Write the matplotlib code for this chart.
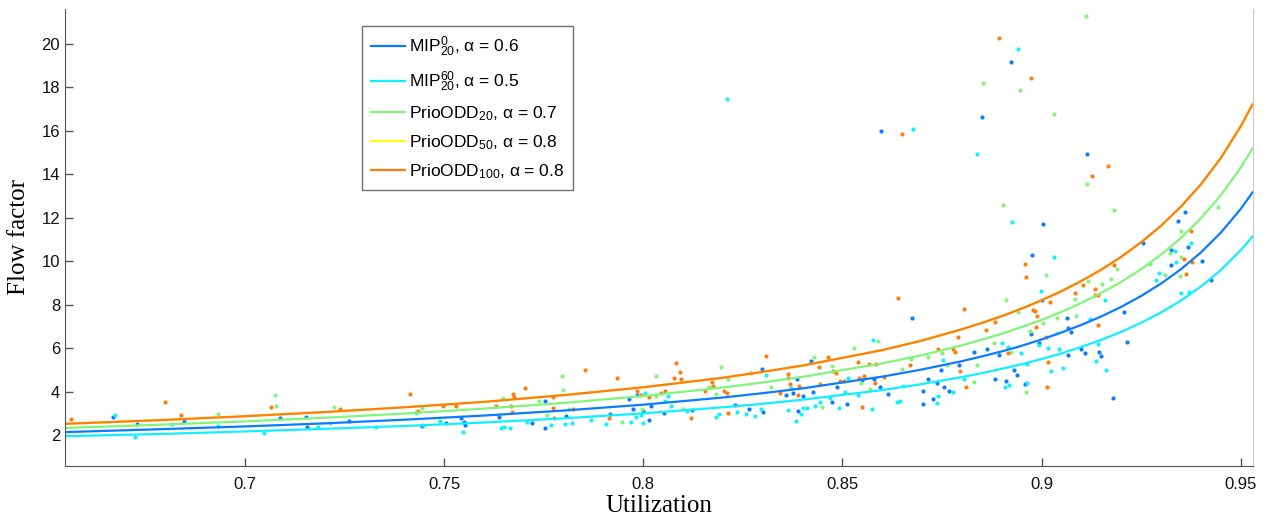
import matplotlib
matplotlib.use("Agg")
import matplotlib.pyplot as plt

# fitted curves, values
u_fit = [0.655, 0.68, 0.70, 0.72, 0.74, 0.76, 0.78, 0.80, 0.82, 0.83, 0.84, 0.86, 0.87,
         0.88, 0.885, 0.89, 0.895, 0.90, 0.905, 0.91, 0.915, 0.92, 0.925, 0.93, 0.935,
         0.94, 0.945, 0.95, 0.953]
fit_mip0 = [2.14, 2.28, 2.40, 2.54, 2.71, 2.90, 3.13, 3.40, 3.73, 3.93, 4.15, 4.69, 5.02,
            5.40, 5.62, 5.85, 6.11, 6.40, 6.72, 7.07, 7.46, 7.90, 8.40, 8.97, 9.63,
            10.40, 11.31, 12.40, 13.17]
fit_mip60 = [1.95, 2.06, 2.17, 2.29, 2.42, 2.58, 2.77, 3.00, 3.28, 3.44, 3.63, 4.07, 4.35,
             4.67, 4.85, 5.05, 5.26, 5.50, 5.76, 6.06, 6.38, 6.75, 7.17, 7.64, 8.19,
             8.83, 9.59, 10.50, 11.14]
fit_odd20 = [2.33, 2.49, 2.63, 2.80, 2.99, 3.22, 3.48, 3.80, 4.19, 4.42, 4.68, 5.30, 5.68,
             6.13, 6.39, 6.66, 6.97, 7.30, 7.67, 8.08, 8.54, 9.05, 9.63, 10.30, 11.07,
             11.97, 13.03, 14.30, 15.19]
fit_odd50 = [2.52, 2.70, 2.87, 3.06, 3.28, 3.53, 3.84, 4.20, 4.64, 4.91, 5.20, 5.91, 6.35,
             6.87, 7.16, 7.47, 7.82, 8.20, 8.62, 9.09, 9.61, 10.20, 10.87, 11.63, 12.51,
             13.53, 14.74, 16.20, 17.22]
fit_odd100 = [2.52, 2.70, 2.87, 3.06, 3.28, 3.53, 3.84, 4.20, 4.64, 4.91, 5.20, 5.91, 6.35,
              6.87, 7.16, 7.47, 7.82, 8.20, 8.62, 9.09, 9.61, 10.20, 10.87, 11.63, 12.51,
              13.53, 14.74, 16.20, 17.22]

# measured points
u_mip0 = [0.6669, 0.6728, 0.6846, 0.7088, 0.7153, 0.7156, 0.7260, 0.7445, 0.7505, 0.7542,
          0.7551, 0.7552, 0.7638, 0.7721, 0.7752, 0.7753, 0.7805, 0.7916, 0.7965, 0.7975,
          0.7985, 0.7999, 0.8014, 0.8019, 0.8053, 0.8122, 0.8230, 0.8265, 0.8297, 0.8301,
          0.8358, 0.8377, 0.8387, 0.8389, 0.8402, 0.8420, 0.8427, 0.8473, 0.8487, 0.8512,
          0.8549, 0.8578, 0.8594, 0.8598, 0.8614, 0.8675, 0.8703, 0.8703, 0.8716, 0.8728,
          0.8738, 0.8747, 0.8754, 0.8768, 0.8793, 0.8831, 0.8850, 0.8862, 0.8884, 0.8894,
          0.8911, 0.8923, 0.8931, 0.8939, 0.8958, 0.8974, 0.8977, 0.8993, 0.9002, 0.9004,
          0.9063, 0.9066, 0.9067, 0.9073, 0.9099, 0.9108, 0.9113, 0.9143, 0.9150, 0.9180,
          0.9207, 0.9215, 0.9255, 0.9325, 0.9326, 0.9343, 0.9359, 0.9368, 0.9402, 0.9426]
ff_mip0 = [2.85, 2.50, 2.63, 2.77, 2.85, 2.36, 2.66, 2.43, 2.54, 2.79,
           2.62, 2.48, 2.82, 2.57, 2.32, 3.57, 2.88, 2.97, 3.65, 3.19,
           3.86, 3.11, 2.69, 3.35, 3.02, 3.15, 3.40, 3.19, 5.06, 3.08,
           3.84, 3.92, 4.57, 3.12, 3.80, 5.40, 3.97, 3.51, 4.21, 3.42,
           4.53, 4.57, 4.23, 15.99, 3.89, 7.39, 3.42, 4.04, 4.57, 3.65,
           4.38, 5.00, 4.21, 4.04, 5.23, 5.84, 16.63, 5.95, 4.60, 5.69,
           4.49, 19.16, 5.01, 4.78, 4.34, 6.65, 10.28, 6.25, 8.22, 11.70,
           7.40, 6.92, 5.69, 6.73, 5.95, 5.79, 14.94, 5.81, 5.64, 3.71,
           7.67, 6.27, 10.83, 10.51, 9.83, 11.84, 12.26, 10.64, 10.01, 9.14]

u_mip60 = [0.6674, 0.6724, 0.6817, 0.6933, 0.7048, 0.7184, 0.7328, 0.7429, 0.7447, 0.7490,
           0.7547, 0.7643, 0.7650, 0.7666, 0.7707, 0.7768, 0.7803, 0.7822, 0.7869, 0.7906,
           0.7970, 0.7982, 0.7994, 0.8000, 0.8003, 0.8055, 0.8063, 0.8070, 0.8109, 0.8182,
           0.8190, 0.8209, 0.8235, 0.8257, 0.8281, 0.8296, 0.8307, 0.8364, 0.8371, 0.8383,
           0.8395, 0.8402, 0.8410, 0.8431, 0.8444, 0.8468, 0.8492, 0.8507, 0.8513, 0.8540,
           0.8573, 0.8577, 0.8638, 0.8645, 0.8651, 0.8677, 0.8737, 0.8739, 0.8753, 0.8778,
           0.8805, 0.8837, 0.8900, 0.8908, 0.8916, 0.8919, 0.8927, 0.8941, 0.8948, 0.8964,
           0.8964, 0.8993, 0.8998, 0.9015, 0.9024, 0.9030, 0.9044, 0.9053, 0.9122, 0.9136,
           0.9142, 0.9160, 0.9162, 0.9288, 0.9296, 0.9334, 0.9338, 0.9349, 0.9371, 0.9374]
ff_mip60 = [2.92, 1.93, 2.52, 2.42, 2.11, 2.36, 2.36, 3.03, 2.45, 2.66,
            2.14, 2.34, 2.38, 2.34, 2.62, 2.45, 2.51, 2.56, 2.69, 2.50,
            2.60, 2.82, 2.94, 2.57, 3.92, 3.55, 3.81, 3.35, 3.12, 2.85,
            2.96, 17.44, 3.08, 2.97, 2.88, 3.19, 4.78, 3.15, 4.15, 2.65,
            2.97, 3.23, 3.26, 3.35, 3.51, 3.69, 3.26, 4.00, 4.61, 3.84,
            3.19, 6.38, 3.51, 3.55, 4.27, 16.06, 3.46, 3.80, 5.46, 4.00,
            4.60, 14.94, 6.25, 4.21, 6.04, 4.32, 11.78, 19.76, 5.76, 5.26,
            4.41, 6.15, 8.63, 6.02, 4.96, 10.17, 5.98, 5.10, 7.36, 5.40,
            6.18, 8.22, 5.01, 9.14, 9.45, 10.49, 9.94, 8.53, 8.59, 10.84]

u_odd20 = [0.6931, 0.7074, 0.7078, 0.7213, 0.7223, 0.7429, 0.7444, 0.7648, 0.7737, 0.7757,
           0.7796, 0.7798, 0.7813, 0.7946, 0.7996, 0.8032, 0.8032, 0.8099, 0.8164, 0.8183,
           0.8194, 0.8212, 0.8321, 0.8429, 0.8449, 0.8474, 0.8530, 0.8547, 0.8568, 0.8590,
           0.8650, 0.8671, 0.8716, 0.8749, 0.8762, 0.8831, 0.8839, 0.8853, 0.8880, 0.8904,
           0.8911, 0.8924, 0.8940, 0.8947, 0.8962, 0.8971, 0.9003, 0.9011, 0.9030, 0.9038,
           0.9038, 0.9084, 0.9087, 0.9112, 0.9113, 0.9116, 0.9151, 0.9175, 0.9182, 0.9190,
           0.9272, 0.9310, 0.9323, 0.9348, 0.9350, 0.9350, 0.9442]
ff_odd20 = [2.97, 3.86, 3.34, 2.57, 3.28, 3.05, 3.26, 3.71, 3.57, 2.92,
            4.72, 4.06, 3.20, 2.59, 3.19, 4.72, 3.80, 3.19, 4.20, 3.89,
            5.12, 4.57, 4.20, 5.61, 3.31, 5.18, 6.02, 4.38, 4.12, 6.33,
            5.04, 5.49, 5.58, 5.79, 5.23, 4.43, 5.24, 18.19, 6.25, 12.59,
            8.22, 5.84, 7.65, 17.89, 3.97, 6.79, 7.15, 9.37, 16.77, 7.40,
            6.69, 8.26, 7.48, 21.29, 13.56, 9.11, 8.96, 9.18, 12.36, 9.63,
            9.88, 9.36, 10.37, 9.32, 11.40, 10.17, 12.49]

u_odd100 = [0.6563, 0.6799, 0.6839, 0.7064, 0.7238, 0.7414, 0.7433, 0.7496, 0.7530, 0.7629,
            0.7668, 0.7670, 0.7674, 0.7676, 0.7704, 0.7772, 0.7772, 0.7775, 0.7823, 0.7854,
            0.7914, 0.7934, 0.7985, 0.7994, 0.8014, 0.8045, 0.8055, 0.8076, 0.8082, 0.8092,
            0.8095, 0.8119, 0.8156, 0.8173, 0.8174, 0.8202, 0.8209, 0.8213, 0.8271, 0.8307,
            0.8344, 0.8363, 0.8364, 0.8368, 0.8389, 0.8391, 0.8440, 0.8444, 0.8463, 0.8476,
            0.8484, 0.8495, 0.8504, 0.8539, 0.8542, 0.8550, 0.8553, 0.8566, 0.8583, 0.8585,
            0.8604, 0.8640, 0.8650, 0.8669, 0.8740, 0.8778, 0.8783, 0.8790, 0.8796, 0.8805,
            0.8810, 0.8860, 0.8884, 0.8894, 0.8916, 0.8959, 0.8962, 0.8974, 0.8979, 0.8984,
            0.8985, 0.8988, 0.9011, 0.9014, 0.9017, 0.9022, 0.9084, 0.9103, 0.9126, 0.9135,
            0.9135, 0.9142, 0.9142, 0.9166, 0.9182, 0.9357, 0.9363, 0.9374, 0.9377]
ff_odd100 = [2.74, 3.52, 2.94, 3.31, 3.21, 3.89, 3.11, 3.32, 3.34, 3.34,
             3.32, 3.06, 3.88, 3.74, 4.15, 3.77, 3.26, 2.77, 3.19, 4.98,
             2.77, 4.61, 4.04, 3.83, 3.74, 3.95, 4.04, 4.61, 5.30, 4.89,
             4.57, 2.80, 4.04, 4.46, 4.27, 4.04, 3.92, 3.00, 4.84, 5.64,
             3.95, 4.81, 4.64, 4.35, 3.84, 4.26, 5.13, 4.35, 5.61, 4.95,
             4.87, 4.50, 4.49, 5.38, 4.61, 3.31, 4.72, 5.27, 4.38, 5.27,
             4.66, 8.30, 15.87, 5.23, 5.95, 5.95, 5.84, 6.50, 4.96, 7.82,
             4.21, 6.84, 7.22, 20.25, 5.76, 9.86, 9.26, 18.41, 7.76, 7.71,
             6.99, 7.48, 6.53, 4.21, 5.35, 8.14, 8.53, 8.92, 13.90, 8.74,
             8.45, 8.45, 7.07, 14.39, 9.83, 10.09, 9.42, 11.40, 9.94]

labels = [r'$\mathrm{MIP}_{20}^{0}$, α = 0.6',
          r'$\mathrm{MIP}_{20}^{60}$, α = 0.5',
          r'$\mathrm{PrioODD}_{20}$, α = 0.7',
          r'$\mathrm{PrioODD}_{50}$, α = 0.8',
          r'$\mathrm{PrioODD}_{100}$, α = 0.8']
colors = ['#0a7cff', '#10f0ff', '#80f57a', '#ffff10', '#ff7d10']

plt.rcParams['font.family'] = ['Liberation Sans', 'DejaVu Sans']
plt.rcParams['mathtext.fontset'] = 'custom'
plt.rcParams['mathtext.rm'] = 'Liberation Sans'
plt.rcParams['mathtext.it'] = 'Liberation Sans:italic'

fig = plt.figure(figsize=(12.68, 5.16), dpi=100)
ax = fig.add_axes([0.0513, 0.0969, 0.9369, 0.8857])

# scatter of the measured flow factors
points = [(u_mip0, ff_mip0, colors[0]), (u_mip60, ff_mip60, colors[1]),
          (u_odd20, ff_odd20, colors[2]), (u_odd100, ff_odd100, colors[4])]
for u, ff, c in points:
    ax.plot(u, ff, linestyle='none', marker='o', markersize=3, mew=0, color=c)

# fitted curves
fits = [fit_mip0, fit_mip60, fit_odd20, fit_odd50, fit_odd100]
for f, c, lab in zip(fits, colors, labels):
    ax.plot(u_fit, f, color=c, lw=1.6, label=lab)

ax.set_xlim(0.6548, 0.9531)
ax.set_ylim(0.58, 21.6)
ax.set_xticks([0.7, 0.75, 0.8, 0.85, 0.9, 0.95])
ax.set_xticklabels(['0.7', '0.75', '0.8', '0.85', '0.9', '0.95'])
ax.set_yticks(range(2, 21, 2))
ax.tick_params(direction='in', length=6, width=1, color='#555555',
               labelsize=12, labelcolor='#111111')
ax.tick_params(axis='x', pad=8)

for s in ['left', 'bottom']:
    ax.spines[s].set_color('#555555')
ax.spines['top'].set_visible(False)
ax.spines['right'].set_color('#cccccc')

ax.set_xlabel('Utilization', family='Liberation Serif', fontsize=18, labelpad=2)
ax.set_ylabel('Flow factor', family='Liberation Serif', fontsize=18, labelpad=8)

leg = ax.legend(loc='upper left', bbox_to_anchor=(0.25, 0.963), borderaxespad=0,
                fontsize=12.5, fancybox=False, framealpha=1, edgecolor='#707070',
                handlelength=2.0, handletextpad=0.2, labelspacing=0.6,
                borderpad=0.5)
leg.get_frame().set_linewidth(1)

fig.savefig('out.png', dpi=100)
